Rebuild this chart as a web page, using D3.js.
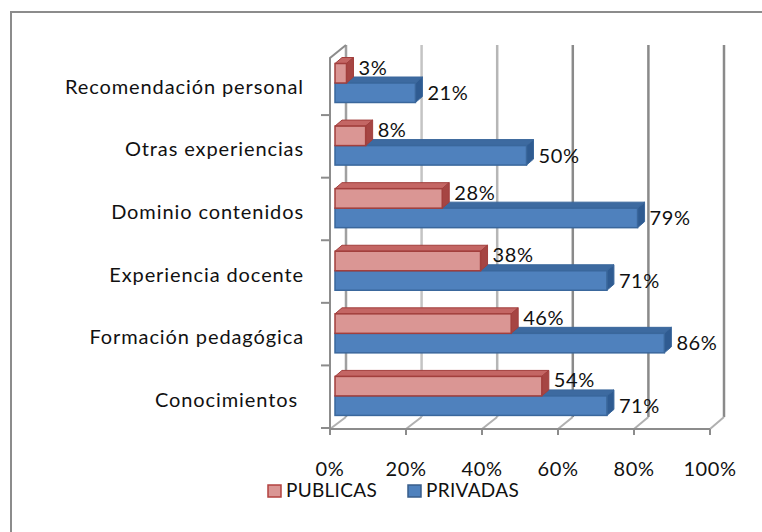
<!DOCTYPE html>
<html>
<head>
<meta charset="utf-8">
<script src="https://cdn.jsdelivr.net/npm/d3@7"></script>
<style>
  body { margin: 0; background: #fff; }
  text { font-family: Lato, "Open Sans", sans-serif; fill: #111; }
</style>
</head>
<body>
<div id="chart"></div>
<script>
// Data
//= ================================
var categories = ["Recomendación personal", "Otras experiencias", "Dominio contenidos",
    "Experiencia docente", "Formación pedagógica", "Conocimientos "];
var publicas = [3, 8, 28, 38, 46, 54];
var privadas = [21, 50, 79, 71, 86, 71];
var tickValues = [0, 20, 40, 60, 80, 100];
var seriesNames = ["PUBLICAS", "PRIVADAS"];

var svgWidth = 762;
var svgHeight = 532;

// 3D depth offset
var depthX = 7;
var depthY = -6;

var svg = d3.select("#chart")
    .append("svg")
    .attr("width", svgWidth)
    .attr("height", svgHeight);

// Chart area border (only top and left are in view)
svg.append("path")
    .attr("d", "M11,532 L11,12 L762,12")
    .attr("fill", "none")
    .attr("stroke", "#8c8c8c")
    .attr("stroke-width", 2);

// Scales
var yBand = d3.scaleBand()
    .domain(categories)
    .range([52.5, 428]);

var xFront = d3.scaleLinear().domain([0, 100]).range([330, 710]);
var xBack = d3.scaleLinear().domain([0, 100]).range([346, 724]);
var xBar = d3.scaleLinear().domain([0, 100]).range([335, 718]);

var floorFront = 429;
var floorBack = 417;
var wallTop = 45;

// Back wall gridlines (shade differs per line, like the 3D wall)
var gridColors = ["#a0a0a0", "#c4c4c4", "#b6b6b6", "#8a8a8a", "#8a8a8a", "#8a8a8a"];
svg.append("g")
    .selectAll("line")
    .data(tickValues)
    .enter()
    .append("line")
    .attr("x1", d => xBack(d))
    .attr("x2", d => xBack(d))
    .attr("y1", wallTop)
    .attr("y2", floorBack)
    .attr("stroke", (d, i) => gridColors[i])
    .attr("stroke-width", 2.5);

// Floor side lines (diagonals)
svg.append("g")
    .selectAll("line")
    .data(tickValues)
    .enter()
    .append("line")
    .attr("x1", d => xFront(d))
    .attr("y1", floorFront)
    .attr("x2", d => xBack(d))
    .attr("y2", floorBack)
    .attr("stroke", "#b0b0b0")
    .attr("stroke-width", 2);

// Floor front edge + bottom ticks
svg.append("line")
    .attr("x1", xFront(0)).attr("x2", xFront(100))
    .attr("y1", floorFront).attr("y2", floorFront)
    .attr("stroke", "#8c8c8c")
    .attr("stroke-width", 2);

svg.append("g")
    .selectAll("line")
    .data(tickValues)
    .enter()
    .append("line")
    .attr("x1", d => xFront(d)).attr("x2", d => xFront(d))
    .attr("y1", floorFront).attr("y2", floorFront + 6)
    .attr("stroke", "#8c8c8c")
    .attr("stroke-width", 2);

// Left wall: front vertical line, top diagonal, category ticks
svg.append("path")
    .attr("d", `M${xFront(0)},${floorFront} L${xFront(0)},${wallTop + 13} L${xBack(0)},${wallTop}`)
    .attr("fill", "none")
    .attr("stroke", "#8c8c8c")
    .attr("stroke-width", 2);

var bandEdges = categories.map(c => yBand(c)).concat([yBand.range()[1]]);
svg.append("g")
    .selectAll("line")
    .data(bandEdges.slice(1))
    .enter()
    .append("line")
    .attr("x1", xFront(0) - 9).attr("x2", xFront(0))
    .attr("y1", d => d).attr("y2", d => d)
    .attr("stroke", "#8c8c8c")
    .attr("stroke-width", 2);

// Category labels
svg.append("g")
    .selectAll("text")
    .data(categories)
    .enter()
    .append("text")
    .attr("x", 304)
    .attr("y", d => yBand(d) + yBand.bandwidth() / 2 + 10)
    .attr("text-anchor", "end")
    .attr("font-size", "20px")
    .attr("letter-spacing", "0.9px")
    .style("white-space", "pre")
    .text(d => d);

// Bottom tick labels
svg.append("g")
    .selectAll("text")
    .data(tickValues)
    .enter()
    .append("text")
    .attr("x", d => xFront(d))
    .attr("y", 476)
    .attr("text-anchor", "middle")
    .attr("font-size", "20px")
    .attr("letter-spacing", "0.6px")
    .text(d => d + "%");

// 3D bar drawing
function drawBars(values, offset, colors) {
    var g = svg.append("g");
    var bars = g.selectAll("g")
        .data(values)
        .enter()
        .append("g");

    var h = 19.5;
    var x0 = xBar(0);

    // top face
    bars.append("path")
        .attr("d", function (d, i) {
            var y = yBand(categories[i]) + offset;
            var x1 = xBar(d);
            return `M${x0},${y} L${x1},${y} L${x1 + depthX},${y + depthY} L${x0 + depthX},${y + depthY} Z`;
        })
        .attr("fill", colors.top)
        .attr("stroke", colors.stroke)
        .attr("stroke-width", 1);

    // side face
    bars.append("path")
        .attr("d", function (d, i) {
            var y = yBand(categories[i]) + offset;
            var x1 = xBar(d);
            return `M${x1},${y} L${x1 + depthX},${y + depthY} L${x1 + depthX},${y + h + depthY} L${x1},${y + h} Z`;
        })
        .attr("fill", colors.side)
        .attr("stroke", colors.stroke)
        .attr("stroke-width", 1);

    // front face
    bars.append("rect")
        .attr("x", x0)
        .attr("y", (d, i) => yBand(categories[i]) + offset)
        .attr("width", d => xBar(d) - x0)
        .attr("height", h)
        .attr("fill", colors.front)
        .attr("stroke", colors.stroke)
        .attr("stroke-width", 1.5);

    // value labels
    bars.append("text")
        .attr("x", d => xBar(d) + 12)
        .attr("y", (d, i) => yBand(categories[i]) + offset + colors.labelDy)
        .attr("font-size", "20px")
        .attr("letter-spacing", "0.6px")
        .text(d => d + "%");
}

// Blue first so the red front faces cover its top face
drawBars(privadas, 30.5, {
    front: "#4f81bd", top: "#3d6aa0", side: "#2f5b91", stroke: "#3a679c", labelDy: 17
});
drawBars(publicas, 11, {
    front: "#da9694", top: "#c46664", side: "#a64543", stroke: "#a23f3d", labelDy: 11
});

// Legend
var legendColors = [
    { fill: "#da9694", stroke: "#b2423f" },
    { fill: "#4f81bd", stroke: "#385d8a" }
];
var legendX = [268, 408];

var legend = svg.append("g")
    .selectAll("g")
    .data(seriesNames)
    .enter()
    .append("g")
    .attr("transform", (d, i) => `translate(${legendX[i]}, 485)`);

legend.append("rect")
    .attr("width", 13)
    .attr("height", 12)
    .attr("fill", (d, i) => legendColors[i].fill)
    .attr("stroke", (d, i) => legendColors[i].stroke)
    .attr("stroke-width", 1.5);

legend.append("text")
    .attr("x", 18)
    .attr("y", 12)
    .attr("font-size", "19px")
    .attr("letter-spacing", "0.3px")
    .text(d => d);
</script>
</body>
</html>
